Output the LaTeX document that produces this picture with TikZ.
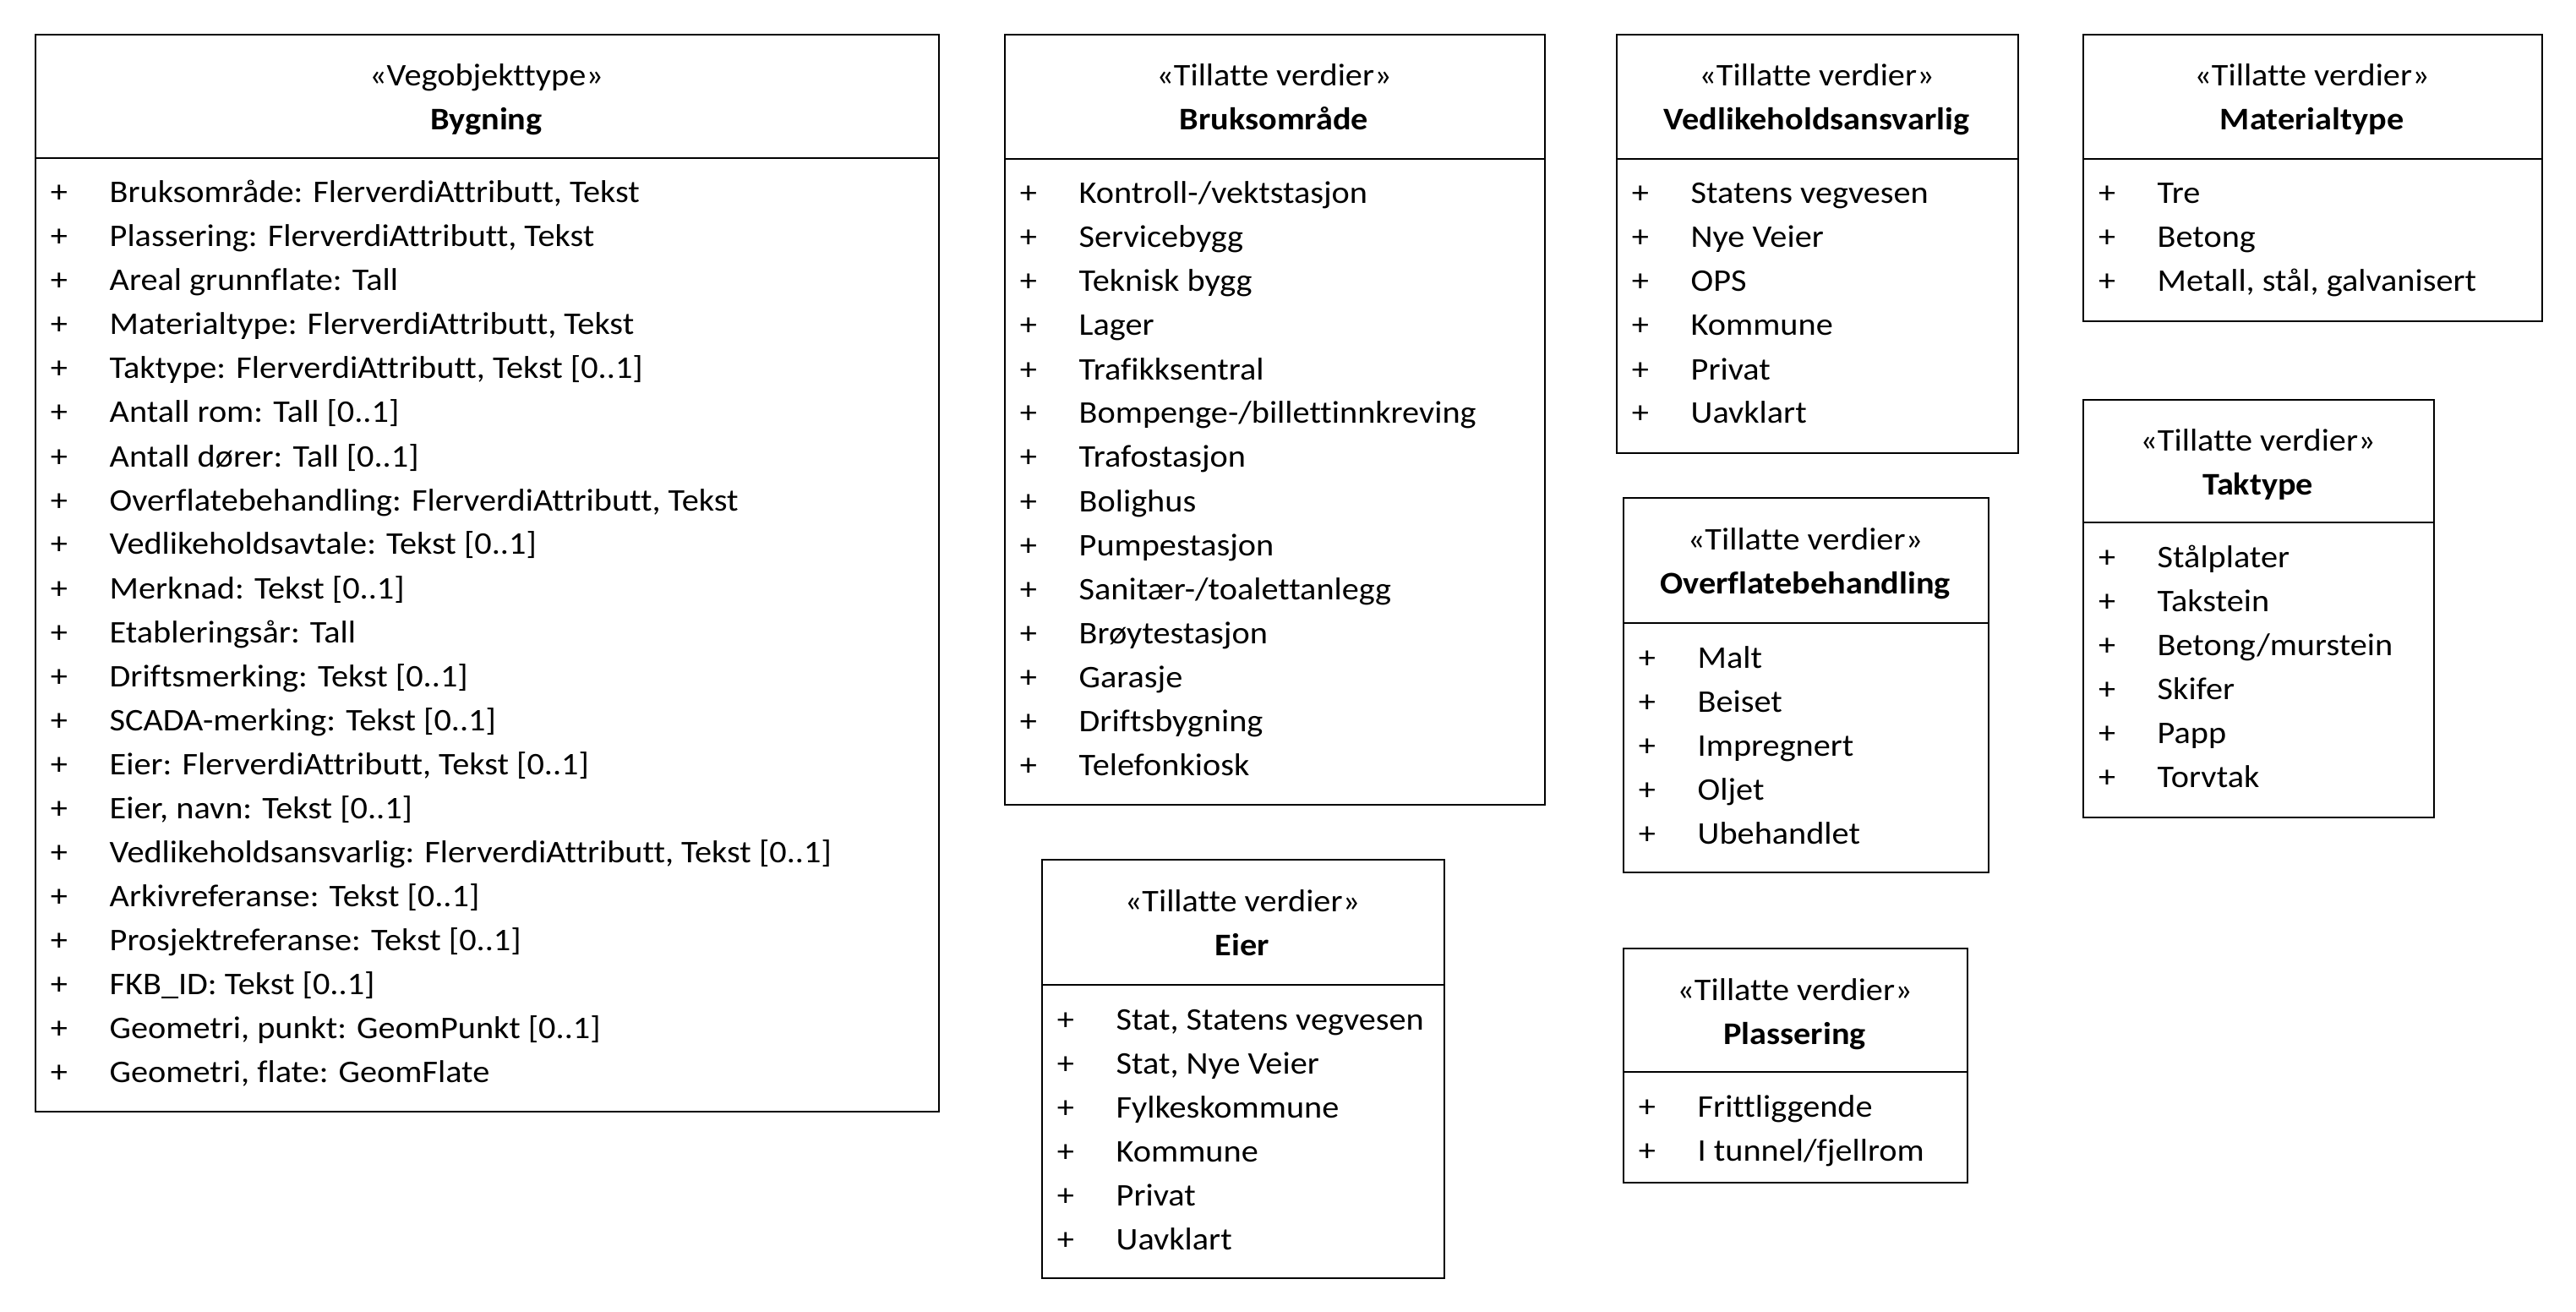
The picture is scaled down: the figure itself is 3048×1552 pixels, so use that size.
\documentclass[tikz,border=0pt]{standalone}
\usepackage{fontspec}
\setmainfont{Carlito}[FakeStretch=1.08, Ligatures=NoCommon]
\usetikzlibrary{positioning}

\newcommand{\klasseboks}[9]{%
  \node[klasse, minimum width=#4*0.01cm, minimum height=#5*0.01cm] (#1) at (#2,#3) {};
  \coordinate (#1-sep) at (#2,#3+#6);
  \draw[line width=0.6pt] (#1-sep) -- (#1-sep -| #1.east);
  \node[tekst, anchor=base] (#1-st) at (#2+#4/2,#3+62) {«#7»};
  \node[tekst, anchor=base, font=\fontsize{10.6}{12}\selectfont\bfseries] (#1-navn) at (#2+#4/2,#3+114) {#8};
  \foreach \v [count=\i] in {#9} {
    \node[tekst, anchor=base] (#1-p\i) at (#2+29,#3+#6+53+\i*52-52) {+};
    \node[tekst, anchor=base west] (#1-v\i) at (#2+88,#3+#6+53+\i*52-52) {\v};
  }
}

\begin{document}
\begin{tikzpicture}[
    x=0.01cm, y=-0.01cm,
    klasse/.style={rectangle, draw, line width=0.6pt, inner sep=0pt, anchor=north west},
    tekst/.style={inner sep=0pt, font=\fontsize{10.6}{12}\selectfont}
]
    \useasboundingbox (0,0) rectangle (3048,1552);

    \klasseboks{bygning}{41}{40}{1069}{1274}{147}{Vegobjekttype}{Bygning}{
      {Bruksområde: FlerverdiAttributt, Tekst},
      {Plassering: FlerverdiAttributt, Tekst},
      Areal grunnflate: Tall,
      {Materialtype: FlerverdiAttributt, Tekst},
      {Taktype: FlerverdiAttributt, Tekst [0..1]},
      Antall rom: Tall [0..1],
      Antall dører: Tall [0..1],
      {Overflatebehandling: FlerverdiAttributt, Tekst},
      Vedlikeholdsavtale: Tekst [0..1],
      Merknad: Tekst [0..1],
      Etableringsår: Tall,
      Driftsmerking: Tekst [0..1],
      SCADA-merking: Tekst [0..1],
      {Eier: FlerverdiAttributt, Tekst [0..1]},
      {Eier, navn: Tekst [0..1]},
      {Vedlikeholdsansvarlig: FlerverdiAttributt, Tekst [0..1]},
      Arkivreferanse: Tekst [0..1],
      Prosjektreferanse: Tekst [0..1],
      FKB\_ID: Tekst [0..1],
      {Geometri, punkt: GeomPunkt [0..1]},
      {Geometri, flate: GeomFlate}}

    \klasseboks{bruk}{1188}{40}{639}{911}{148}{Tillatte verdier}{Bruksområde}{
      Kontroll-/vektstasjon, Servicebygg, Teknisk bygg, Lager, Trafikksentral,
      Bompenge-/billettinnkreving, Trafostasjon, Bolighus, Pumpestasjon,
      Sanitær-/toalettanlegg, Brøytestasjon, Garasje, Driftsbygning, Telefonkiosk}

    \klasseboks{eier}{1232}{1016}{476}{495}{149}{Tillatte verdier}{Eier}{
      {Stat, Statens vegvesen}, {Stat, Nye Veier}, Fylkeskommune, Kommune, Privat, Uavklart}

    \klasseboks{vedl}{1912}{40}{475}{495}{148}{Tillatte verdier}{Vedlikeholdsansvarlig}{
      Statens vegvesen, Nye Veier, OPS, Kommune, Privat, Uavklart}

    \klasseboks{overfl}{1920}{588}{432}{443}{149}{Tillatte verdier}{Overflatebehandling}{
      Malt, Beiset, Impregnert, Oljet, Ubehandlet}

    \klasseboks{plass}{1920}{1121}{407}{277}{147}{Tillatte verdier}{Plassering}{
      Frittliggende, I tunnel/fjellrom}

    \klasseboks{materiale}{2464}{40}{543}{339}{148}{Tillatte verdier}{Materialtype}{
      Tre, Betong, {Metall, stål, galvanisert}}

    \klasseboks{tak}{2464}{472}{415}{494}{146}{Tillatte verdier}{Taktype}{
      Stålplater, Takstein, Betong/murstein, Skifer, Papp, Torvtak}
\end{tikzpicture}
\end{document}
